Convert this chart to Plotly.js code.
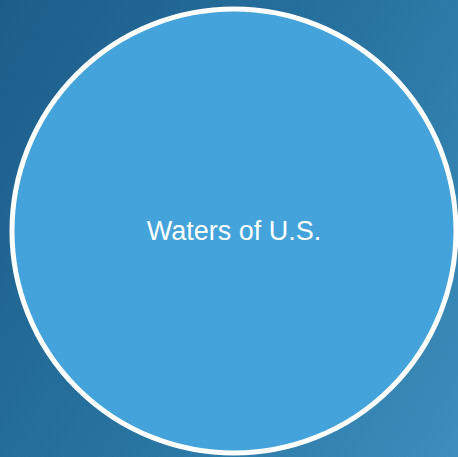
<!DOCTYPE html>
<html>
<head>
<meta charset="utf-8">
<script src="https://cdn.plot.ly/plotly-3.0.1.min.js"></script>
<style>
html, body { margin:0; padding:0; width:458px; height:457px; overflow:hidden;
  background: linear-gradient(120deg, #1d5d8a 0%, #27729f 50%, #3d8ebd 100%); }
#chart { width:458px; height:457px; }
</style>
</head>
<body>
<div id="chart"></div>
<script>
const labels = ["Waters of U.S."];
const values = [1];
const colors = ["#43a3da"];

const data = [{
  type: "pie",
  labels: labels,
  values: values,
  sort: false,
  textinfo: "label",
  textposition: "inside",
  insidetextorientation: "horizontal",
  insidetextfont: { family: "Liberation Sans, Arial, sans-serif", size: 27, color: "#ffffff" },
  marker: { colors: colors, line: { color: "#ffffff", width: 5 } },
  hoverinfo: "none",
  showlegend: false
}];

const layout = {
  width: 458, height: 457,
  margin: { l: 12, r: 2, t: 9, b: 4 },
  paper_bgcolor: "rgba(0,0,0,0)",
  plot_bgcolor: "rgba(0,0,0,0)",
  showlegend: false
};

Plotly.newPlot("chart", data, layout, { displayModeBar: false, staticPlot: true });
</script>
</body>
</html>
